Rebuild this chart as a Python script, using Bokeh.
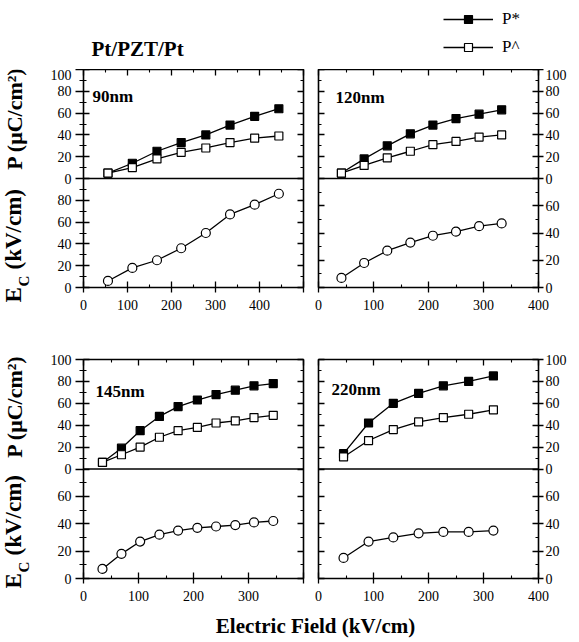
import math
from bokeh.plotting import figure
from bokeh.models import Range1d, LinearAxis, FixedTicker, Label, Legend, LegendItem, Span
from bokeh.layouts import column, row
from bokeh.embed import file_html
from bokeh.resources import INLINE

# ---------------- data ----------------
# 90 nm film
field_90 = [55.6, 111, 167, 222, 278, 333, 389, 444]
p_star_90 = [5, 14, 25, 33, 40, 49, 57, 64]
p_hat_90 = [5, 10, 18, 24, 28, 33, 37, 39]
ec_90 = [6, 18, 25, 36, 50, 67, 76, 86]

# 120 nm film
field_120 = [41.7, 83, 125, 167, 208, 250, 292, 333]
p_star_120 = [5, 18, 30, 41, 49, 55, 59, 63]
p_hat_120 = [5, 12, 19, 25, 31, 34, 38, 40]
ec_120 = [7, 18, 27, 33, 38, 41, 45, 47]

# 145 nm film
field_145 = [34.5, 69, 103, 138, 172, 207, 241, 276, 310, 345]
p_star_145 = [6, 19, 35, 48, 57, 63, 68, 72, 76, 78]
p_hat_145 = [6, 13, 20, 29, 35, 38, 42, 44, 47, 49]
ec_145 = [7, 18, 27, 32, 35, 37, 38, 39, 41, 42]

# 220 nm film
field_220 = [45.5, 91, 136, 182, 227, 273, 318]
p_star_220 = [14, 42, 60, 69, 76, 80, 85]
p_hat_220 = [11, 26, 36, 43, 47, 50, 54]
ec_220 = [15, 27, 30, 33, 34, 34, 35]

# tick values
x_ticks_wide = [0, 100, 200, 300, 400, 500]
x_minor_wide = [50, 150, 250, 350, 450]
x_ticks = [0, 100, 200, 300, 400]
x_minor = [50, 150, 250, 350]
p_ticks = [0, 20, 40, 60, 80, 100]
p_minor = [10, 30, 50, 70, 90]
ec_ticks_100 = [0, 20, 40, 60, 80]
ec_minor_100 = [10, 30, 50, 70, 90]
ec_ticks_80 = [0, 20, 40, 60]
ec_minor_80 = [10, 30, 50, 70]

panel_names = ["90nm", "120nm", "145nm", "220nm"]
legend_names = ["P*", "P^"]

# ---------------- styling helpers ----------------
SERIF = "Liberation Serif, Times New Roman, DejaVu Serif, serif"
FRAME_W = 220
STRIP_W = 34


def style_axis(ax, side, labeled):
    ax.axis_line_color = None
    ax.major_tick_line_color = "black"
    ax.minor_tick_line_color = "black"
    ax.major_tick_line_width = 1.3
    ax.minor_tick_line_width = 1.1
    ax.major_tick_in = 6
    ax.minor_tick_in = 3
    if labeled:
        ax.major_label_text_font = SERIF
        ax.major_label_text_font_size = "14px"
        ax.major_label_text_color = "black"
        if side == "left":
            ax.major_tick_out = 8
            ax.minor_tick_out = 4
            ax.major_label_standoff = 4
        elif side == "right":
            ax.major_tick_out = 5
            ax.minor_tick_out = 0
            ax.major_label_standoff = 2
        else:
            ax.major_tick_out = 5
            ax.minor_tick_out = 0
            ax.major_label_standoff = 7
    else:
        ax.major_tick_out = 0
        ax.minor_tick_out = 0
        ax.major_label_standoff = 0
        ax.major_label_text_font_size = "0px"


def make_pair(is_left, x_end, ec_top, frame_h, top_b, xt, xm, ec_ticks, ec_minor, x_hide=()):
    """One frame holding the P panel (upper half) and the Ec panel (lower half)."""
    ml, mr = (83 - STRIP_W, 7) if is_left else (8, 33)
    p = figure(width=ml + FRAME_W + mr, height=top_b + frame_h + 30,
               x_range=Range1d(0, x_end), y_range=Range1d(-100, 100),
               x_axis_location=None, y_axis_location=None,
               min_border_left=ml, min_border_right=mr,
               min_border_top=top_b, min_border_bottom=30,
               output_backend="svg", toolbar_location=None)
    # Ec values live in the lower half: Ec = 0 at the bottom, Ec = ec_top at the divider
    p.extra_y_ranges = {"ec": Range1d(0, 2 * ec_top)}
    p.outline_line_color = "black"
    p.outline_line_width = 1.6
    p.background_fill_color = "white"
    p.border_fill_color = "white"
    p.grid.grid_line_color = None

    def to_main(v):
        return -100 + 100 * v / ec_top

    y_major = [to_main(v) for v in ec_ticks] + p_ticks
    y_minor = [to_main(v) for v in ec_minor] + p_minor
    overrides = {to_main(v): str(v) for v in ec_ticks}

    # x axes
    top_ax = LinearAxis(ticker=FixedTicker(ticks=xt, minor_ticks=xm))
    style_axis(top_ax, "above", False)
    top_ax.major_label_overrides = {t: "" for t in xt}
    p.add_layout(top_ax, "above")
    bot_ax = LinearAxis(ticker=FixedTicker(ticks=xt, minor_ticks=xm))
    style_axis(bot_ax, "below", True)
    bot_ax.major_label_overrides = {t: "" for t in x_hide}
    p.add_layout(bot_ax, "below")
    # y axes
    for side, labeled in (("left", is_left), ("right", not is_left)):
        ax = LinearAxis(ticker=FixedTicker(ticks=y_major, minor_ticks=y_minor))
        style_axis(ax, side, labeled)
        if labeled:
            ax.major_label_overrides = overrides
        else:
            ax.major_label_overrides = {t: "" for t in y_major}
        p.add_layout(ax, side)
    # divider between the two panels
    p.add_layout(Span(location=0, dimension="width", line_color="black", line_width=1.6))
    return p


def label(p, txt, x, y, size, bold=True, angle=0.0, align="left", baseline="middle"):
    p.add_layout(Label(x=x, y=y, x_units="screen", y_units="screen", text=txt,
                       angle=angle, text_font=SERIF, text_font_size=size,
                       text_font_style="bold" if bold else "normal",
                       text_align=align, text_baseline=baseline, text_color="black"))


def draw_p(p, x, ys, ya):
    l1 = p.line(x, ys, line_color="black", line_width=1.3)
    s1 = p.scatter(x, ys, marker="square", size=8, fill_color="black",
                   line_color="black", line_width=1.2)
    l2 = p.line(x, ya, line_color="black", line_width=1.3)
    s2 = p.scatter(x, ya, marker="square", size=8, fill_color="white",
                   line_color="black", line_width=1.2)
    return [l1, s1], [l2, s2]


def draw_ec(p, x, y):
    p.line(x, y, line_color="black", line_width=1.3, y_range_name="ec")
    p.scatter(x, y, marker="circle", size=9, fill_color="white",
              line_color="black", line_width=1.2, y_range_name="ec")


def blank_fig(w, h):
    f = figure(width=w, height=h, x_range=Range1d(0, 1), y_range=Range1d(0, 1),
               x_axis_location=None, y_axis_location=None, min_border=0,
               output_backend="svg", toolbar_location=None)
    f.outline_line_color = None
    f.grid.grid_line_color = None
    f.background_fill_color = "white"
    f.border_fill_color = "white"
    return f


# ---------------- panels ----------------
tl = make_pair(True, 500, 100, 218, 0, x_ticks_wide, x_minor_wide, ec_ticks_100, ec_minor_100,
               x_hide=(500,))
tr = make_pair(False, 400, 80, 218, 0, x_ticks, x_minor, ec_ticks_80, ec_minor_80)
bl = make_pair(True, 400, 80, 219, 42, x_ticks, x_minor, ec_ticks_80, ec_minor_80, x_hide=(400,))
br = make_pair(False, 400, 80, 219, 42, x_ticks, x_minor, ec_ticks_80, ec_minor_80)

draw_p(tl, field_90, p_star_90, p_hat_90)
draw_p(tr, field_120, p_star_120, p_hat_120)
draw_p(bl, field_145, p_star_145, p_hat_145)
draw_p(br, field_220, p_star_220, p_hat_220)

draw_ec(tl, field_90, ec_90)
draw_ec(tr, field_120, ec_120)
draw_ec(bl, field_145, ec_145)
draw_ec(br, field_220, ec_220)

# thickness labels
label(tl, panel_names[0], 9, 191, "17px", baseline="alphabetic")
label(tr, panel_names[1], 17, 190, "17px", baseline="alphabetic")
label(bl, panel_names[2], 12, 187, "17px", baseline="alphabetic")
label(br, panel_names[3], 13, 189, "17px", baseline="alphabetic")

# ---------------- top strip: title + legend ----------------
top = blank_fig(571, 69)
label(top, "Pt/PZT/Pt", 91, 21, "21px", baseline="alphabetic")
# legend keys: the 120 nm series drawn in a strip whose ranges keep them out of view
key_star = draw_p(top, field_120, p_star_120, p_hat_120)
legend = Legend(items=[LegendItem(label=legend_names[0], renderers=key_star[0]),
                       LegendItem(label=legend_names[1], renderers=key_star[1])],
                location=(443, 12), orientation="vertical",
                glyph_width=50, glyph_height=20, label_height=20,
                label_standoff=9, spacing=8, padding=0, margin=0,
                border_line_color=None, background_fill_alpha=0,
                label_text_font=SERIF, label_text_font_size="17px",
                label_text_color="black")
top.add_layout(legend)

# ---------------- left strip: y-axis titles ----------------
left = blank_fig(STRIP_W, 539)
for y_c in (490, 202):
    label(left, "P (\u03bcC/cm\u00b2)", 14, y_c, "22px", angle=math.pi / 2, align="center")
for y0 in (306, 20):
    label(left, "E", 13, y0, "23px", angle=math.pi / 2)
    label(left, "C", 23, y0 + 16, "15px", angle=math.pi / 2)
    label(left, "(kV/cm)", 13, y0 + 33, "23px", angle=math.pi / 2)

# ---------------- bottom strip: x-axis title ----------------
bottom = blank_fig(571, 30)
label(bottom, "Electric Field (kV/cm)", 315, 13, "21px", align="center")

grid = column(row(tl, tr), row(bl, br))
layout = column(top, row(left, grid), bottom)

with open("out.html", "w") as f:
    f.write(file_html(layout, INLINE))
